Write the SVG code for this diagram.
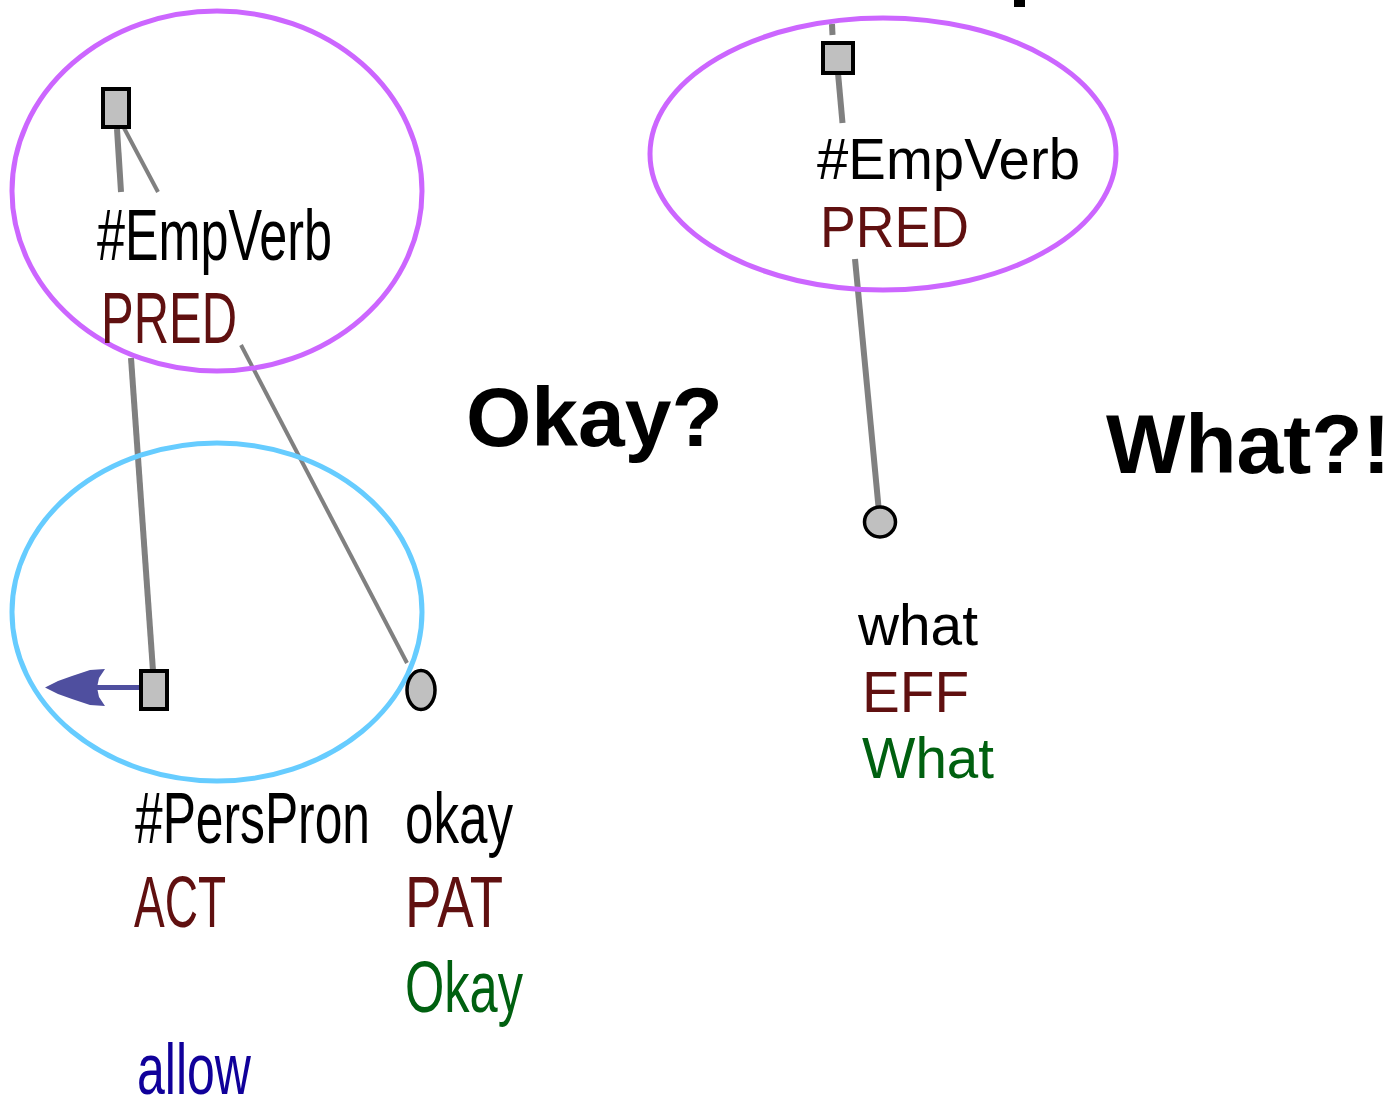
<svg xmlns="http://www.w3.org/2000/svg" width="1390" height="1097" viewBox="0 0 1390 1097">
<style>
.edge{stroke:#808080;stroke-width:6;fill:none}
.thin{stroke:#808080;stroke-width:4;fill:none}
.sq{fill:#c0c0c0;stroke:#000;stroke-width:4}
.circ{fill:#c0c0c0;stroke:#000;stroke-width:3.5}
.lbl{font-family:"Liberation Sans",Arial,sans-serif}
.big{font-size:72px}
.sm{font-size:58px}
.lemma{fill:#000}
.func{fill:#601010}
.form{fill:#006010}
.verb{fill:#10009a}
.bold{font-family:"Liberation Sans",Arial,sans-serif;font-weight:bold;font-size:84px;fill:#000}
.purple{fill:none;stroke:#cc66ff;stroke-width:5}
.blue{fill:none;stroke:#66ccff;stroke-width:5}
</style>
<rect width="1390" height="1097" fill="#fff"/>
<g id="connectors">
<line class="edge" x1="117" y1="129" x2="121" y2="192"/>
<line class="edge" x1="131" y1="358" x2="153" y2="671"/>
<line class="thin" x1="124" y1="128" x2="158" y2="192"/>
<line class="thin" x1="241" y1="345" x2="407" y2="663"/>
<line class="edge" x1="838" y1="73" x2="842.5" y2="123"/>
<line class="edge" x1="855" y1="259" x2="879" y2="512"/>
<line class="edge" x1="832" y1="24" x2="832.5" y2="35"/>
<line x1="60" y1="687.5" x2="141" y2="687.5" stroke="#4f4f9f" stroke-width="5"/>
<path d="M45,687.5 L58,681 L72,676 L90,670 L105,669 L99,678 L97,687.5 L99,697 L105,706 L90,705 L72,699 L58,694 Z" fill="#4f4f9f"/>
</g>
<g id="highlights">
<ellipse class="purple" cx="217" cy="191" rx="205" ry="180"/>
<ellipse class="purple" cx="883" cy="154" rx="233" ry="136"/>
<ellipse class="blue" cx="217" cy="612" rx="205" ry="169"/>
</g>
<g id="node-empverb-left">
<rect class="sq" x="103" y="89" width="26" height="38"/>
<text class="lbl big lemma" x="97" y="260" textLength="235" lengthAdjust="spacingAndGlyphs">#EmpVerb</text>
<text class="lbl big func" x="101" y="343" textLength="136" lengthAdjust="spacingAndGlyphs">PRED</text>
</g>
<g id="node-perspron">
<rect class="sq" x="141" y="671" width="26" height="38"/>
<text class="lbl big lemma" x="135" y="843" textLength="235" lengthAdjust="spacingAndGlyphs">#PersPron</text>
<text class="lbl big func" x="134" y="927" textLength="92" lengthAdjust="spacingAndGlyphs">ACT</text>
<text class="lbl big verb" x="137" y="1094" textLength="114" lengthAdjust="spacingAndGlyphs">allow</text>
</g>
<g id="node-okay">
<ellipse class="circ" cx="421" cy="690" rx="14" ry="19.5"/>
<text class="lbl big lemma" x="405" y="843" textLength="108" lengthAdjust="spacingAndGlyphs">okay</text>
<text class="lbl big func" x="405" y="927" textLength="98" lengthAdjust="spacingAndGlyphs">PAT</text>
<text class="lbl big form" x="405" y="1012" textLength="118" lengthAdjust="spacingAndGlyphs">Okay</text>
</g>
<g id="node-empverb-right">
<rect class="sq" x="823" y="43" width="30" height="30"/>
<text class="lbl sm lemma" x="817" y="179" textLength="263" lengthAdjust="spacingAndGlyphs">#EmpVerb</text>
<text class="lbl sm func" x="820" y="247" textLength="149" lengthAdjust="spacingAndGlyphs">PRED</text>
</g>
<g id="node-what">
<ellipse class="circ" cx="880" cy="522" rx="15.5" ry="15"/>
<text class="lbl sm lemma" x="858" y="645" textLength="120" lengthAdjust="spacingAndGlyphs">what</text>
<text class="lbl sm func" x="862" y="712" textLength="107" lengthAdjust="spacingAndGlyphs">EFF</text>
<text class="lbl sm form" x="862" y="778" textLength="132" lengthAdjust="spacingAndGlyphs">What</text>
</g>
<g id="annotations">
<text class="bold" x="466" y="446">Okay?</text>
<text class="bold" x="1106" y="473">What?!</text>
<rect x="1014" y="0" width="11" height="7" fill="#000"/>
</g>
</svg>
